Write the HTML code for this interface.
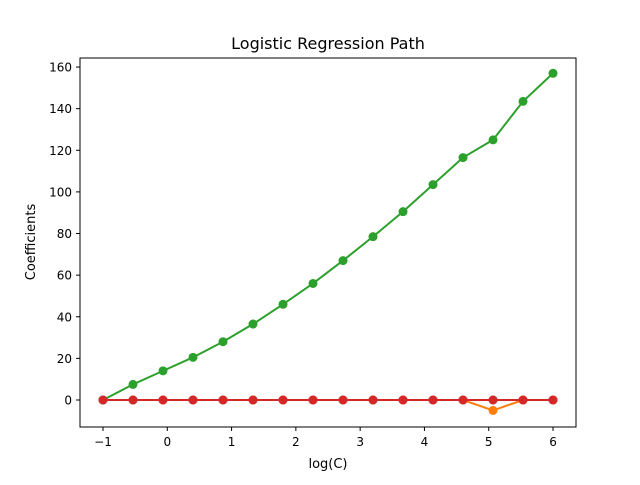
<!DOCTYPE html>
<html><head><meta charset="utf-8"><style>
body{margin:0;background:#fff;}
svg text{font-family:"DejaVu Sans","Liberation Sans",sans-serif;fill:#000;}
</style></head><body>
<svg id="chart" width="640" height="480" xmlns="http://www.w3.org/2000/svg">
<rect width="640" height="480" fill="#fff"/>
<text x="328" y="49" font-size="16" text-anchor="middle">Logistic Regression Path</text>
<text x="328" y="468" font-size="13" text-anchor="middle">log(C)</text>
<text transform="translate(35,242) rotate(-90)" font-size="13" text-anchor="middle">Coefficients</text>
<g id="ticks"></g>
<g id="series"></g>
<rect x="80" y="58" width="496" height="369" fill="none" stroke="#000" stroke-width="1"/>
</svg>
<script>
const xValues=[-1,-0.5333,-0.0667,0.4,0.8667,1.3333,1.8,2.2667,2.7333,3.2,3.6667,4.1333,4.6,5.0667,5.5333,6];
const seriesBlue=[0,0,0,0,0,0,0,0,0,0,0,0,0,0,0,0];
const seriesOrange=[0,0,0,0,0,0,0,0,0,0,0,0,0,-5,0,0];
const seriesGreen=[0,7.5,14,20.5,28,36.5,46,56,67,78.5,90.5,103.5,116.5,125,143.5,157];
const seriesRed=[0,0,0,0,0,0,0,0,0,0,0,0,0,0,0,0];
const xTicks=[-1,0,1,2,3,4,5,6];
const yTicks=[0,20,40,60,80,100,120,140,160];
const NS="http://www.w3.org/2000/svg";
const xs=v=>103+(v+1)*64.29;
const ys=v=>400-v*2.081;
const tg=document.getElementById('ticks');
function mk(tag,attrs,parent){const e=document.createElementNS(NS,tag);for(const k in attrs)e.setAttribute(k,attrs[k]);parent.appendChild(e);return e;}
xTicks.forEach(t=>{
  const l=mk('line',{x1:xs(t),x2:xs(t),y1:427,y2:431,stroke:'#000'},tg);
  
  
  const tx=mk('text',{x:xs(t),y:446,'font-size':12,'text-anchor':'middle'},tg);
  tx.textContent=t<0?'\u2212'+(-t):String(t);
  
  
});
yTicks.forEach(t=>{
  const l=mk('line',{x1:76,x2:80,y1:ys(t),y2:ys(t),stroke:'#000'},tg);
  
  
  const tx=mk('text',{x:72,y:ys(t)+4.5,'font-size':12,'text-anchor':'end'},tg);
  tx.textContent=String(t);
  
  
});
const sg=document.getElementById('series');
[[seriesBlue,'#1f77b4','blue'],[seriesOrange,'#ff7f0e','orange'],[seriesGreen,'#2ca02c','green'],[seriesRed,'#d62728','red']].forEach(([d,c,n])=>{
  const g=mk('g',{},sg);
  
  
  const p=mk('polyline',{points:d.map((v,i)=>xs(xValues[i])+','+ys(v)).join(' '),fill:'none',stroke:c,'stroke-width':2},g);
  
  
  d.forEach((v,i)=>{
    const m=mk('circle',{cx:xs(xValues[i]),cy:ys(v),r:4.5,fill:c},g);
    
    
  });
});
</script>
</body></html>
